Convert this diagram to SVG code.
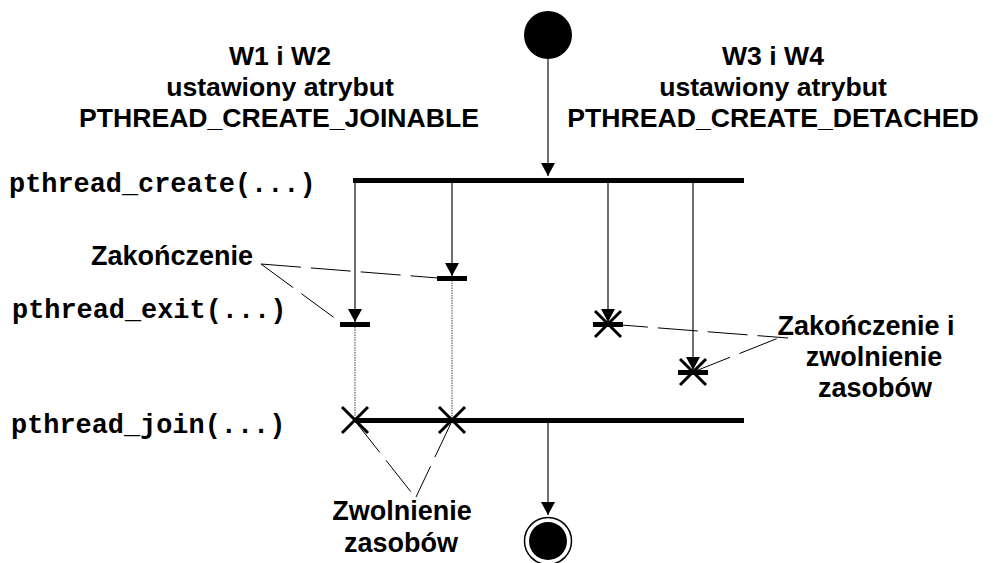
<svg xmlns="http://www.w3.org/2000/svg" width="993" height="563" viewBox="0 0 993 563">
<defs>
<style>
.t{font-family:"Liberation Sans",Arial,sans-serif;font-weight:bold;font-size:27px;fill:#000;text-anchor:middle}
.h{font-size:26.6px}
.m{font-family:"Liberation Mono","Courier New",monospace;font-weight:bold;font-size:26.9px;fill:#000}
.flow{stroke:#222;stroke-width:1.3;fill:none}
.dot{stroke:#666;stroke-width:1.2;stroke-dasharray:1.5 1;fill:none}
.dash{stroke:#000;stroke-width:1;stroke-dasharray:40 10;fill:none}
.bar{fill:#000}
.x{stroke:#000;stroke-width:3;fill:none}
.ah{fill:#000}
</style>
</defs>

<g id="labels">
<text class="t h" x="280" y="65">W1 i W2</text>
<text class="t h" x="280" y="96">ustawiony atrybut</text>
<text class="t h" x="279" y="127">PTHREAD_CREATE_JOINABLE</text>
<text class="t h" x="773" y="65">W3 i W4</text>
<text class="t h" x="773" y="96">ustawiony atrybut</text>
<text class="t h" x="773" y="127">PTHREAD_CREATE_DETACHED</text>
<text class="m" x="9" y="192">pthread_create(...)</text>
<text class="m" x="12" y="318">pthread_exit(...)</text>
<text class="m" x="11" y="433">pthread_join(...)</text>
<text class="t" x="172" y="265">Zakończenie</text>
<text class="t" x="866" y="335">Zakończenie i</text>
<text class="t" x="874" y="366">zwolnienie</text>
<text class="t" x="875" y="397">zasobów</text>
<text class="t" x="402" y="520">Zwolnienie</text>
<text class="t" x="401" y="552">zasobów</text>
</g>

<g id="connectors">
<line class="flow" x1="548" y1="59" x2="548" y2="176"/>
<path class="ah" d="M541,163 L555,163 L548,176 Z"/>
<line class="flow" x1="355" y1="183" x2="355" y2="322"/>
<path class="ah" d="M348,309 L362,309 L355,322 Z"/>
<line class="flow" x1="452" y1="183" x2="452" y2="276"/>
<path class="ah" d="M445,263 L459,263 L452,276 Z"/>
<line class="flow" x1="608" y1="183" x2="608" y2="322"/>
<path class="ah" d="M601,309 L615,309 L608,322 Z"/>
<line class="flow" x1="693" y1="183" x2="693" y2="370"/>
<path class="ah" d="M686,357 L700,357 L693,370 Z"/>
<line class="dot" x1="355" y1="327" x2="355" y2="418"/>
<line class="dot" x1="452" y1="280" x2="452" y2="418"/>
<line class="flow" x1="548" y1="423" x2="548" y2="515"/>
<path class="ah" d="M541,502 L555,502 L548,515 Z"/>
<line class="dash" x1="261" y1="264" x2="438" y2="278"/>
<line class="dash" x1="261" y1="264" x2="340" y2="322"/>
<line class="dash" x1="608" y1="324" x2="788" y2="338"/>
<line class="dash" x1="693" y1="372" x2="786" y2="335"/>
<line class="dash" x1="355" y1="421" x2="411" y2="492"/>
<line class="dash" x1="452" y1="421" x2="416" y2="497"/>
</g>

<g id="start">
<circle cx="548" cy="35" r="24" fill="#000"/>
</g>

<g id="fork">
<rect class="bar" x="353" y="178" width="391" height="5"/>
</g>

<g id="end-w1">
<rect class="bar" x="340" y="322" width="30" height="5"/>
</g>
<g id="end-w2">
<rect class="bar" x="437" y="276" width="30" height="5"/>
</g>
<g id="end-w3">
<rect class="bar" x="593" y="322" width="30" height="5"/>
<path class="x" d="M595,311 L621,337 M621,311 L595,337"/>
</g>
<g id="end-w4">
<rect class="bar" x="678" y="370" width="30" height="5"/>
<path class="x" d="M680,359 L706,385 M706,359 L680,385"/>
</g>

<g id="join">
<rect class="bar" x="355" y="418" width="389" height="5"/>
<path class="x" d="M342,407 L368,433 M368,407 L342,433"/>
<path class="x" d="M439,407 L465,433 M465,407 L439,433"/>
</g>

<g id="final">
<circle cx="548" cy="541" r="23.5" fill="#fff" stroke="#000" stroke-width="1.5"/>
<circle cx="548" cy="541" r="19" fill="#000"/>
</g>
</svg>
